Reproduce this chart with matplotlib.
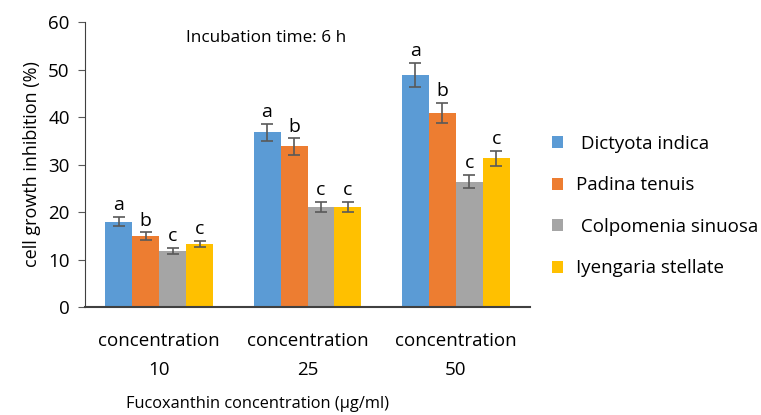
import numpy as np
import matplotlib.pyplot as plt

plt.rcParams['font.family'] = ['Open Sans', 'DejaVu Sans']

groups = ['concentration\n10', 'concentration\n25', 'concentration\n50']
species = [' Dictyota indica', 'Padina tenuis', ' Colpomenia sinuosa', 'Iyengaria stellate']
colors = ['#5b9bd5', '#ed7d31', '#a5a5a5', '#ffc000']

values = [
    [18.0, 36.8, 48.8],   # Dictyota indica
    [14.9, 33.8, 40.9],   # Padina tenuis
    [11.8, 21.0, 26.4],   # Colpomenia sinuosa
    [13.3, 21.0, 31.3],   # Iyengaria stellate
]
errors = [
    [1.0, 1.8, 2.5],
    [0.8, 1.7, 2.1],
    [0.6, 1.1, 1.4],
    [0.7, 1.1, 1.6],
]
letters = [
    ['a', 'a', 'a'],
    ['b', 'b', 'b'],
    ['c', 'c', 'c'],
    ['c', 'c', 'c'],
]

fig = plt.figure(figsize=(7.61, 4.15), dpi=100)
ax = fig.add_axes([85 / 761, 108 / 415, 445 / 761, 285 / 415])

x = np.arange(len(groups))
w = 0.182
for i in range(4):
    pos = x + (i - 1.5) * w
    ax.bar(pos, values[i], w, color=colors[i], label=species[i],
           yerr=errors[i], ecolor='#595959', capsize=4,
           error_kw={'elinewidth': 1.2, 'capthick': 1.2})
    for j in range(3):
        ax.text(pos[j], values[i][j] + errors[i][j] + 0.6, letters[i][j],
                ha='center', va='bottom', fontsize=14)

ax.set_xlim(-0.5, 2.5)
ax.set_ylim(0, 60)
ax.set_yticks(range(0, 61, 10))
ax.set_xticks(x)
ax.set_xticklabels(groups, fontsize=13.5, linespacing=1.75)
ax.tick_params(axis='x', length=0, pad=18)
ax.tick_params(axis='y', labelsize=13.5, direction='out', length=5, color='#595959', pad=6)
for s in ['top', 'right']:
    ax.spines[s].set_visible(False)
ax.spines['left'].set_color('#404040')
ax.spines['bottom'].set_color('#404040')
ax.spines['bottom'].set_linewidth(1.5)

ax.set_ylabel('cell growth inhibition (%)', fontsize=13, labelpad=5)
fig.text(258 / 761, 0.018, 'Fucoxanthin concentration (µg/ml)', ha='center', fontsize=11.8)
ax.text(0.18, 56.6, 'Incubation time: 6 h', fontsize=12.3, ha='left', va='center')

fig.legend(loc='upper left', bbox_to_anchor=(535 / 761, 1 - 118 / 415), frameon=False,
           handlelength=0.6, handleheight=0.6, handletextpad=0.7,
           labelspacing=1.25, fontsize=13.5)

fig.savefig('out.png', dpi=100)
